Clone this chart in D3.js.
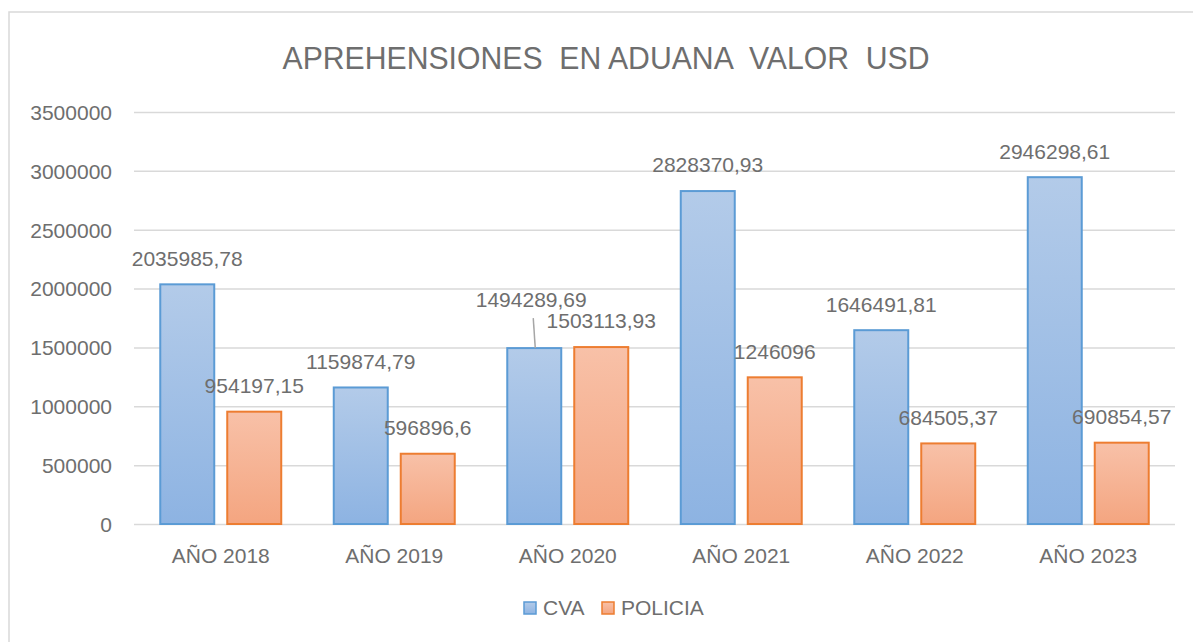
<!DOCTYPE html>
<html>
<head>
<meta charset="utf-8">
<script src="https://cdn.jsdelivr.net/npm/d3@7"></script>
<style>
  html, body { margin: 0; padding: 0; background: #ffffff; }
  svg { display: block; font-family: "Liberation Sans", Arial, sans-serif; }
</style>
</head>
<body>
<svg id="chart" width="1193" height="642"></svg>
<script>
const categories = ["AÑO 2018", "AÑO 2019", "AÑO 2020", "AÑO 2021", "AÑO 2022", "AÑO 2023"];
const seriesNames = ["CVA", "POLICIA"];
const cvaLabels = ["2035985,78", "1159874,79", "1494289,69", "2828370,93", "1646491,81", "2946298,61"];
const policiaLabels = ["954197,15", "596896,6", "1503113,93", "1246096", "684505,37", "690854,57"];
const yTicks = [0, 500000, 1000000, 1500000, 2000000, 2500000, 3000000, 3500000];
const title = "APREHENSIONES  EN ADUANA  VALOR  USD";

const toNum = s => +s.replace(",", ".");
const cvaValues = cvaLabels.map(toNum);
const policiaValues = policiaLabels.map(toNum);

const svg = d3.select("#chart");
const W = 1193, H = 642;
const plot = { left: 134, right: 1175, top: 112, bottom: 524 };
const textColor = "#6e6e6e";

// frame
svg.append("rect").attr("x", 9).attr("y", 12).attr("width", W + 10).attr("height", H + 10)
  .attr("fill", "#fff").attr("stroke", "#d9d9d9").attr("stroke-width", 1.5);

const defs = svg.append("defs");
function grad(id, top, bottom) {
  const g = defs.append("linearGradient").attr("id", id)
    .attr("x1", 0).attr("y1", 0).attr("x2", 0).attr("y2", 1);
  g.append("stop").attr("offset", "0%").attr("stop-color", top);
  g.append("stop").attr("offset", "100%").attr("stop-color", bottom);
}
grad("gCVA", "#b3cbe9", "#8db3e2");
grad("gPOL", "#f8c1a8", "#f4a580");
grad("gCVAl", "#b3cbe9", "#8db3e2");
const fills = { CVA: "url(#gCVA)", POLICIA: "url(#gPOL)" };
const strokes = { CVA: "#5b9bd5", POLICIA: "#ed7d31" };

const y = d3.scaleLinear().domain([0, 3500000]).range([plot.bottom, plot.top]);
const x0 = d3.scaleBand().domain(categories).range([plot.left, plot.right]).padding(0);
const x1 = d3.scaleBand().domain(seriesNames).range([0, x0.bandwidth()])
  .paddingInner(0.194).paddingOuter(0.392);

// gridlines via axis
const yAxis = d3.axisLeft(y).tickValues(yTicks).tickSize(-(plot.right - plot.left)).tickFormat(d3.format("d"));
const gy = svg.append("g").attr("transform", `translate(${plot.left},0)`).call(yAxis);
gy.select(".domain").remove();
gy.selectAll(".tick line").attr("stroke", "#d9d9d9").attr("stroke-width", 1.5);
gy.selectAll(".tick text").attr("x", -22).attr("fill", textColor)
  .style("font-size", "21px").attr("dy", "0.35em");

// x axis labels
const xAxis = d3.axisBottom(x0).tickSize(0);
const gx = svg.append("g").attr("transform", `translate(0,${plot.bottom})`).call(xAxis);
gx.select(".domain").remove();
gx.selectAll(".tick text").attr("fill", textColor).style("font-size", "21px")
  .attr("y", 32).attr("dy", "0.35em");

// bars
const rows = categories.map((c, i) => ({ cat: c, vals: [
  { s: "CVA", v: cvaValues[i], label: cvaLabels[i] },
  { s: "POLICIA", v: policiaValues[i], label: policiaLabels[i] }
]}));

const groups = svg.append("g").selectAll("g").data(rows).join("g")
  .attr("transform", d => `translate(${x0(d.cat)},0)`);
groups.selectAll("rect").data(d => d.vals).join("rect")
  .attr("x", d => x1(d.s)).attr("width", x1.bandwidth())
  .attr("y", d => y(d.v)).attr("height", d => y(0) - y(d.v))
  .attr("fill", d => fills[d.s]).attr("stroke", d => strokes[d.s]).attr("stroke-width", 2);

// data labels
const labG = svg.append("g");
rows.forEach(r => {
  const a = r.vals[0], b = r.vals[1];
  const ya = y(a.v), yb = y(b.v);
  const cxA = x0(r.cat) + x1("CVA") + x1.bandwidth() / 2;
  const cxB = x0(r.cat) + x1("POLICIA") + x1.bandwidth() / 2;
  let labA = { x: cxA, y: ya - 26 };
  const collide = Math.abs(ya - yb) < 22;
  if (collide) {
    labA = { x: cxA - 3, y: ya - 48 };
    labG.append("line").attr("x1", cxA - 1).attr("y1", labA.y + 18)
      .attr("x2", cxA + 1).attr("y2", ya).attr("stroke", "#a6a6a6").attr("stroke-width", 1.5);
  }
  labG.append("text").attr("x", labA.x).attr("y", labA.y).attr("dy", "0.35em")
    .attr("text-anchor", "middle").attr("fill", textColor).style("font-size", "21px").text(a.label);
  labG.append("text").attr("x", cxB).attr("y", yb - 26).attr("dy", "0.35em")
    .attr("text-anchor", "middle").attr("fill", textColor).style("font-size", "21px").text(b.label);
});

// title
svg.append("text").attr("x", 606).attr("y", 58).attr("dy", "0.35em")
  .attr("text-anchor", "middle").attr("fill", textColor)
  .style("font-size", "31px").style("white-space", "pre")
  .attr("textLength", 647).attr("lengthAdjust", "spacingAndGlyphs")
  .text(title);

// legend
const legend = svg.append("g");
const legItems = [{ s: "CVA", x: 524 }, { s: "POLICIA", x: 602 }];
legItems.forEach(it => {
  legend.append("rect").attr("x", it.x).attr("y", 602).attr("width", 12).attr("height", 12)
    .attr("fill", fills[it.s]).attr("stroke", strokes[it.s]).attr("stroke-width", 1.5);
  legend.append("text").attr("x", it.x + 19).attr("y", 608).attr("dy", "0.35em")
    .attr("fill", textColor).style("font-size", "21px").text(it.s);
});
</script>
</body>
</html>
